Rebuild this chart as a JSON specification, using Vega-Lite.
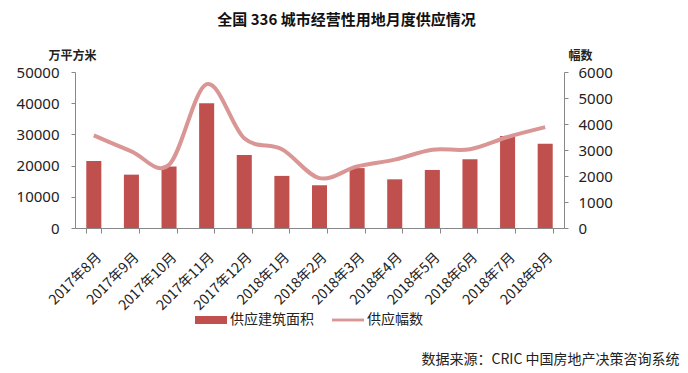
{
  "$schema": "https://vega.github.io/schema/vega-lite/v6.json",
  "autosize": {"type": "none"},
  "padding": {"left": 75, "top": 72, "right": 124, "bottom": 145},
  "width": 489,
  "height": 156,
  "background": "white",
  "title": {
    "text": "全国 336 城市经营性用地月度供应情况",
    "font": "Noto Sans CJK SC",
    "fontSize": 15,
    "fontWeight": "bold",
    "color": "#111111",
    "anchor": "middle",
    "dx": 27,
    "offset": 21
  },
  "data": {
    "values": [
      {"month": "2017年8月", "area": 21500, "count": 3560},
      {"month": "2017年9月", "area": 17100, "count": 2950},
      {"month": "2017年10月", "area": 19700, "count": 2430},
      {"month": "2017年11月", "area": 40000, "count": 5530},
      {"month": "2017年12月", "area": 23400, "count": 3450},
      {"month": "2018年1月", "area": 16700, "count": 3030},
      {"month": "2018年2月", "area": 13700, "count": 1920},
      {"month": "2018年3月", "area": 19200, "count": 2370},
      {"month": "2018年4月", "area": 15600, "count": 2630},
      {"month": "2018年5月", "area": 18600, "count": 3010},
      {"month": "2018年6月", "area": 22000, "count": 3030},
      {"month": "2018年7月", "area": 29500, "count": 3500},
      {"month": "2018年8月", "area": 27000, "count": 3880}
    ]
  },
  "encoding": {
    "x": {
      "field": "month",
      "type": "nominal",
      "sort": null,
      "scale": {"paddingInner": 0.6, "paddingOuter": 0.3},
      "axis": {
        "title": "数据来源：CRIC 中国房地产决策咨询系统",
        "titleX": 604,
        "titleY": 131,
        "titleAlign": "right",
        "titleBaseline": "middle",
        "titleFont": "Noto Sans CJK SC",
        "titleFontSize": 14,
        "titleFontWeight": "normal",
        "titleColor": "#222222",
        "labelAngle": -45,
        "labelFont": "Noto Sans CJK SC",
        "labelFontSize": 14,
        "labelColor": "#222222",
        "labelPadding": 17,
        "tickBand": "extent",
        "tickSize": 5,
        "tickColor": "#888888",
        "domainColor": "#888888",
        "labelOverlap": false
      }
    }
  },
  "layer": [
    {
      "mark": {"type": "bar", "color": "#C0504D"},
      "encoding": {
        "y": {
          "field": "area",
          "type": "quantitative",
          "scale": {"domain": [0, 50000], "nice": false},
          "axis": {
            "title": "万平方米",
            "titleAngle": 0,
            "titleX": -27,
            "titleY": -17,
            "titleAlign": "left",
            "titleBaseline": "middle",
            "titleFont": "Noto Sans CJK SC",
            "titleFontSize": 12,
            "titleFontWeight": "bold",
            "titleColor": "#222222",
            "values": [0, 10000, 20000, 30000, 40000, 50000],
            "format": "d",
            "labelFont": "Noto Sans",
            "labelFontSize": 15,
            "labelColor": "#222222",
            "labelPadding": 12,
            "tickSize": 4,
            "tickColor": "#888888",
            "domainColor": "#888888",
            "grid": false
          }
        },
        "color": {
          "datum": "供应建筑面积",
          "scale": {"domain": ["供应建筑面积", "供应幅数"], "range": ["#C0504D", "#D99694"]},
          "legend": {
            "title": null,
            "orient": "none",
            "direction": "horizontal",
            "legendX": 120,
            "legendY": 232,
            "symbolSize": 1024,
            "labelFont": "Noto Sans CJK SC",
            "labelFontSize": 14,
            "labelColor": "#222222",
            "labelOffset": 3,
            "columnPadding": 18,
            "encode": {
              "symbols": {
                "update": {
                  "shape": {"signal": "datum.value === '供应建筑面积' ? 'M-1,-0.25H1V0.25H-1Z' : 'M-1,-0.09H1V0.09H-1Z'"},
                  "fill": {"signal": "datum.value === '供应建筑面积' ? '#C0504D' : '#D99694'"},
                  "stroke": {"value": "transparent"},
                  "strokeWidth": {"value": 0},
                  "opacity": {"value": 1}
                }
              }
            }
          }
        }
      }
    },
    {
      "mark": {"type": "line", "color": "#D99694", "strokeWidth": 4, "interpolate": "cardinal"},
      "encoding": {
        "y": {
          "field": "count",
          "type": "quantitative",
          "scale": {"domain": [0, 6000], "nice": false},
          "axis": {
            "orient": "right",
            "title": "幅数",
            "titleAngle": 0,
            "titleX": 4,
            "titleY": -17,
            "titleAlign": "left",
            "titleBaseline": "middle",
            "titleFont": "Noto Sans CJK SC",
            "titleFontSize": 12,
            "titleFontWeight": "bold",
            "titleColor": "#222222",
            "values": [0, 1000, 2000, 3000, 4000, 5000, 6000],
            "format": "d",
            "labelFont": "Noto Sans",
            "labelFontSize": 15,
            "labelColor": "#222222",
            "labelPadding": 10,
            "tickSize": 4,
            "tickColor": "#888888",
            "domainColor": "#888888",
            "grid": false
          }
        },
        "color": {"datum": "供应幅数"}
      }
    }
  ],
  "resolve": {"scale": {"y": "independent"}},
  "config": {"view": {"stroke": null}}
}
